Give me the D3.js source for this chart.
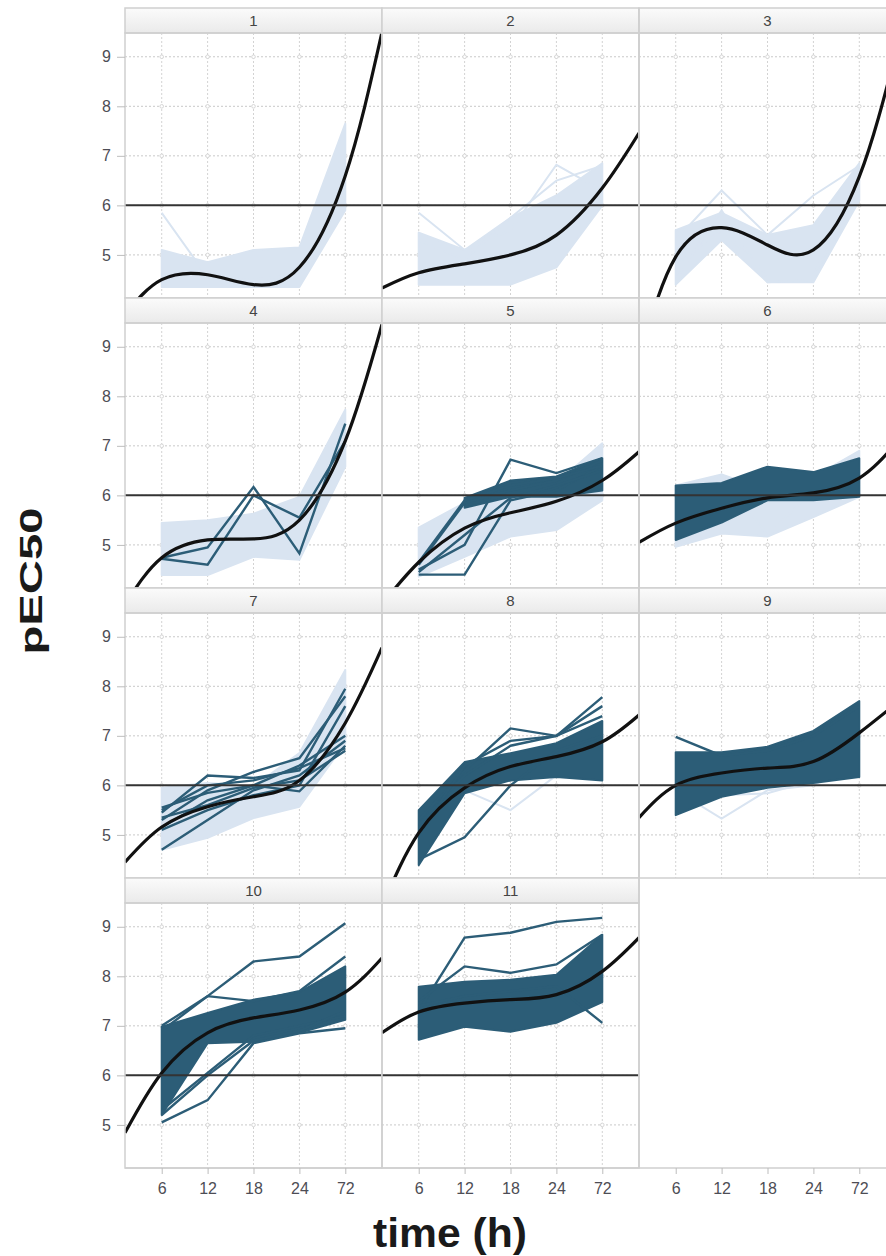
<!DOCTYPE html>
<html>
<head>
<meta charset="utf-8">
<script src="https://d3js.org/d3.v7.min.js"></script>
<style>
  body { margin: 0; background: #fff; }
  text { font-family: "Liberation Sans", Arial, sans-serif; }
</style>
</head>
<body>
<svg id="chart" width="886" height="1256"></svg>
<script>
// ---- data ----
var times = ["6", "12", "18", "24", "72"];
var panelNames = ["1", "2", "3", "4", "5", "6", "7", "8", "9", "10", "11"];
var yTicks = [5, 6, 7, 8, 9];
var threshold = 6;

// fitted curve, sampled at these positions (in units of time-point index)
var fitIdx = [-0.8, 0, 1, 2, 3, 4, 4.8];
var fitValues = [
  [3.8, 4.5, 4.6, 4.4, 4.75, 6.6, 9.5],
  [4.33, 4.64, 4.82, 5.0, 5.4, 6.35, 7.46],
  [2.9, 4.96, 5.55, 5.2, 5.1, 6.58, 9.1],
  [3.8, 4.74, 5.1, 5.12, 5.5, 7.1, 9.45],
  [3.8, 4.65, 5.34, 5.65, 5.88, 6.3, 6.88],
  [5.05, 5.44, 5.74, 5.95, 6.05, 6.35, 7.05],
  [4.45, 5.16, 5.57, 5.77, 6.1, 7.26, 8.78],
  [3.55, 5.04, 5.95, 6.38, 6.58, 6.88, 7.42],
  [5.35, 6.0, 6.25, 6.35, 6.48, 7.06, 7.65],
  [4.84, 6.05, 6.86, 7.16, 7.32, 7.68, 8.37],
  [6.86, 7.28, 7.46, 7.53, 7.63, 8.1, 8.78]
];

// envelope of the dense bundle of light (non-responder) profiles
var lightLow = [
  [4.35, 4.35, 4.35, 4.35, 5.9],
  [4.4, 4.4, 4.4, 4.75, 6.0],
  [4.4, 5.3, 4.45, 4.45, 6.1],
  [4.39, 4.39, 4.76, 4.7, 6.58],
  [4.36, 4.76, 5.17, 5.3, 5.9],
  [4.96, 5.23, 5.17, 5.56, 5.97],
  [4.7, 4.94, 5.34, 5.57, 6.85],
  null, null, null, null
];
var lightHigh = [
  [5.1, 4.85, 5.1, 5.15, 7.65],
  [5.45, 5.1, 5.75, 6.2, 6.85],
  [5.5, 5.85, 5.4, 5.6, 6.85],
  [5.44, 5.5, 5.63, 5.97, 7.73],
  [5.35, 5.85, 6.1, 6.25, 7.05],
  [6.2, 6.42, 6.1, 6.37, 6.9],
  [5.95, 6.05, 5.98, 6.65, 8.33],
  null, null, null, null
];

// envelope of the dense bundle of dark (responder) profiles
var darkLow = [
  null, null, null, null,
  [null, 5.75, 5.97, 5.97, 6.1],
  [5.1, 5.45, 5.9, 5.9, 5.97],
  null,
  [4.39, 5.84, 6.1, 6.17, 6.1],
  [5.4, 5.77, 5.95, 6.05, 6.17],
  [5.2, 6.65, 6.68, 6.86, 7.12],
  [6.72, 6.98, 6.88, 7.06, 7.48]
];
var darkHigh = [
  null, null, null, null,
  [null, 5.95, 6.3, 6.38, 6.75],
  [6.2, 6.25, 6.58, 6.47, 6.75],
  null,
  [5.5, 6.47, 6.65, 6.85, 7.3],
  [6.67, 6.67, 6.78, 7.1, 7.7],
  [6.98, 7.26, 7.53, 7.68, 8.2],
  [7.79, 7.89, 7.93, 8.03, 8.84]
];

// single profiles that stand out of the bundles: [panel index, values]
var lightProfiles = [
  [0, [5.85, 4.55, 4.5, 4.6, 6.2]],
  [1, [5.85, 5.1, 5.5, 6.82, 6.3]],
  [1, [5.3, 4.9, 5.75, 6.5, 6.8]],
  [2, [5.3, 6.3, 5.4, 6.2, 6.8]],
  [2, [4.5, 5.9, 4.45, 4.5, 6.5]],
  [2, [4.8, 5.5, 4.6, 4.6, 6.3]],
  [5, [5.9, 6.42, 5.2, 6.1, 6.8]],
  [7, [5.0, 5.9, 5.5, 6.2, 6.6]],
  [8, [5.9, 5.33, 5.9, 6.0, 6.5]],
  [8, [6.0, 5.8, 5.84, 6.1, 6.6]]
];
var darkProfiles = [
  [3, [4.74, 4.95, 6.17, 4.83, 7.45]],
  [3, [4.72, 4.6, 6.0, 5.55, 7.1]],
  [4, [4.4, 4.4, 5.9, 6.1, 6.6]],
  [4, [4.5, 5.0, 6.72, 6.45, 6.75]],
  [4, [4.45, 5.2, 5.95, 6.2, 6.5]],
  [4, [4.6, 5.85, 6.1, 6.3, 6.7]],
  [4, [4.65, 5.9, 6.2, 6.35, 6.6]],
  [6, [5.45, 6.2, 6.15, 6.3, 7.95]],
  [6, [5.3, 5.9, 6.27, 6.55, 7.8]],
  [6, [5.15, 5.7, 6.0, 6.4, 7.0]],
  [6, [4.7, 5.3, 5.9, 6.2, 6.9]],
  [6, [5.55, 5.85, 6.0, 5.88, 6.8]],
  [6, [5.35, 5.6, 5.95, 6.1, 6.7]],
  [6, [5.1, 5.5, 5.8, 6.0, 7.6]],
  [6, [5.5, 6.0, 6.1, 6.35, 6.75]],
  [7, [4.5, 4.95, 6.0, 6.7, 7.0]],
  [7, [5.3, 6.3, 7.15, 7.0, 7.4]],
  [7, [5.2, 6.2, 6.8, 7.0, 7.78]],
  [7, [5.0, 6.4, 6.9, 7.0, 7.6]],
  [8, [6.98, 6.6, 6.7, 7.0, 7.6]],
  [9, [6.9, 7.6, 8.3, 8.4, 9.07]],
  [9, [7.0, 7.6, 7.5, 7.7, 8.4]],
  [9, [5.05, 5.5, 6.65, 6.85, 6.95]],
  [9, [5.3, 6.05, 6.8, 7.0, 7.2]],
  [9, [5.2, 6.0, 6.7, 6.9, 7.3]],
  [10, [7.3, 8.78, 8.88, 9.1, 9.18]],
  [10, [7.5, 8.2, 8.07, 8.24, 8.84]],
  [10, [7.4, 7.6, 7.7, 7.8, 7.06]]
];

// ---- layout ----
var padLeft = 125, padTop = 8, colW = 257, stripH = 25, plotH = 265, rowH = 290;
var nRows = 4;
var axisY = padTop + nRows * rowH;   // 1168
var lightColor = "#d9e4f1", darkColor = "#2c5d77";

var svg = d3.select("#chart");

var defs = svg.append("defs");
var grad = defs.append("linearGradient")
  .attr("id", "stripGrad").attr("x1", 0).attr("y1", 0).attr("x2", 0).attr("y2", 1);
grad.append("stop").attr("offset", "0%").attr("stop-color", "#fbfbfb");
grad.append("stop").attr("offset", "100%").attr("stop-color", "#eaeaea");

defs.append("clipPath").attr("id", "plotClip")
  .append("rect").attr("width", colW).attr("height", plotH);

var x = d3.scalePoint().domain(times).range([0, colW]).padding(0.8);
var y = d3.scaleLinear().domain([4.13, 9.48]).range([plotH, 0]);
function xi(i) { return x(times[0]) + i * x.step(); }

var band = d3.area()
  .defined(function(d) { return d[0] != null; })
  .x(function(d, i) { return x(times[i]); })
  .y0(function(d) { return y(d[0]); })
  .y1(function(d) { return y(d[1]); });
var profile = d3.line()
  .x(function(d, i) { return x(times[i]); })
  .y(function(d) { return y(d); });
var fitLine = d3.line()
  .x(function(d) { return xi(d[0]); })
  .y(function(d) { return y(d[1]); })
  .curve(d3.curveNatural);

panelNames.forEach(function(name, p) {
  var col = p % 3, row = Math.floor(p / 3);
  var g = svg.append("g")
    .attr("transform", "translate(" + (padLeft + col * colW) + "," + (padTop + row * rowH) + ")");

  // strip
  g.append("rect")
    .attr("width", colW).attr("height", stripH)
    .attr("fill", "url(#stripGrad)")
    .attr("stroke", "#d0d0d0").attr("stroke-width", 1.5);
  g.append("text")
    .attr("x", colW / 2).attr("y", 18)
    .attr("text-anchor", "middle")
    .attr("font-size", 15)
    .attr("fill", "#444")
    .text(name);

  var plot = g.append("g").attr("transform", "translate(0," + stripH + ")");

  // grid
  plot.selectAll(".hgrid").data(yTicks).enter().append("line")
    .attr("x1", 0).attr("x2", colW)
    .attr("y1", function(d) { return y(d); }).attr("y2", function(d) { return y(d); })
    .attr("stroke", "#c9c9c9").attr("stroke-dasharray", "2,2");
  plot.selectAll(".vgrid").data(times).enter().append("line")
    .attr("y1", 0).attr("y2", plotH)
    .attr("x1", function(d) { return x(d); }).attr("x2", function(d) { return x(d); })
    .attr("stroke", "#d3d3d3").attr("stroke-dasharray", "2,2");
  var cross = d3.cross(times, yTicks);
  plot.selectAll(".dot").data(cross).enter().append("circle")
    .attr("cx", function(d) { return x(d[0]); })
    .attr("cy", function(d) { return y(d[1]); })
    .attr("r", 1.8)
    .attr("fill", "#fff").attr("stroke", "#d6d6d6");

  var data = plot.append("g").attr("clip-path", "url(#plotClip)");

  if (lightLow[p]) {
    data.append("path")
      .datum(d3.zip(lightLow[p], lightHigh[p]))
      .attr("d", band)
      .attr("fill", lightColor).attr("stroke", lightColor)
      .attr("stroke-width", 2).attr("stroke-linejoin", "round");
  }
  lightProfiles.filter(function(d) { return d[0] === p; }).forEach(function(d) {
    data.append("path").datum(d[1]).attr("d", profile)
      .attr("fill", "none").attr("stroke", lightColor).attr("stroke-width", 2);
  });
  if (darkLow[p]) {
    data.append("path")
      .datum(d3.zip(darkLow[p], darkHigh[p]))
      .attr("d", band)
      .attr("fill", darkColor).attr("stroke", darkColor)
      .attr("stroke-width", 2).attr("stroke-linejoin", "round");
  }
  darkProfiles.filter(function(d) { return d[0] === p; }).forEach(function(d) {
    data.append("path").datum(d[1]).attr("d", profile)
      .attr("fill", "none").attr("stroke", darkColor).attr("stroke-width", 2.4);
  });

  // reference level
  plot.append("line")
    .attr("x1", 0).attr("x2", colW)
    .attr("y1", y(threshold)).attr("y2", y(threshold))
    .attr("stroke", "#333").attr("stroke-width", 2);

  // fitted curve
  data.append("path")
    .datum(d3.zip(fitIdx, fitValues[p]))
    .attr("d", fitLine)
    .attr("fill", "none").attr("stroke", "#111").attr("stroke-width", 3.2);

  // panel frame
  plot.append("rect")
    .attr("width", colW).attr("height", plotH)
    .attr("fill", "none").attr("stroke", "#cfcfcf").attr("stroke-width", 1.5);
});

// outer frame lines
svg.append("line")
  .attr("x1", padLeft).attr("x2", 886).attr("y1", axisY).attr("y2", axisY)
  .attr("stroke", "#cfcfcf").attr("stroke-width", 1.5);
svg.append("line")
  .attr("x1", padLeft + 2 * colW).attr("x2", padLeft + 2 * colW)
  .attr("y1", padTop).attr("y2", axisY)
  .attr("stroke", "#cfcfcf").attr("stroke-width", 1.5);

// y axes
for (var r = 0; r < nRows; r++) {
  var ya = svg.append("g")
    .attr("transform", "translate(" + padLeft + "," + (padTop + r * rowH + stripH) + ")")
    .call(d3.axisLeft(y).tickValues(yTicks).tickSize(8).tickPadding(6).tickFormat(d3.format("d")));
  ya.select(".domain").remove();
  ya.selectAll(".tick line").attr("stroke", "#bdbdbd");
  ya.selectAll(".tick text").attr("font-size", 16).attr("fill", "#4d4d55")
    .attr("font-family", "Liberation Sans, Arial, sans-serif");
}

// x axes
for (var c = 0; c < 3; c++) {
  var xa = svg.append("g")
    .attr("transform", "translate(" + (padLeft + c * colW) + "," + axisY + ")")
    .call(d3.axisBottom(x).tickSize(6).tickPadding(9));
  xa.select(".domain").remove();
  xa.selectAll(".tick line").attr("stroke", "#bdbdbd");
  xa.selectAll(".tick text").attr("font-size", 16).attr("fill", "#4d4d55")
    .attr("font-family", "Liberation Sans, Arial, sans-serif");
}

// axis titles
svg.append("text")
  .attr("x", 450).attr("y", 1247)
  .attr("text-anchor", "middle")
  .attr("font-size", 40).attr("font-weight", "bold")
  .attr("fill", "#1a1a1a")
  .attr("textLength", 154).attr("lengthAdjust", "spacingAndGlyphs")
  .text("time (h)");

svg.append("text")
  .attr("transform", "translate(42,581) rotate(-90)")
  .attr("text-anchor", "middle")
  .attr("font-size", 32).attr("font-weight", "bold")
  .attr("fill", "#1a1a1a")
  .attr("textLength", 147).attr("lengthAdjust", "spacingAndGlyphs")
  .text("pEC50");
</script>
</body>
</html>
